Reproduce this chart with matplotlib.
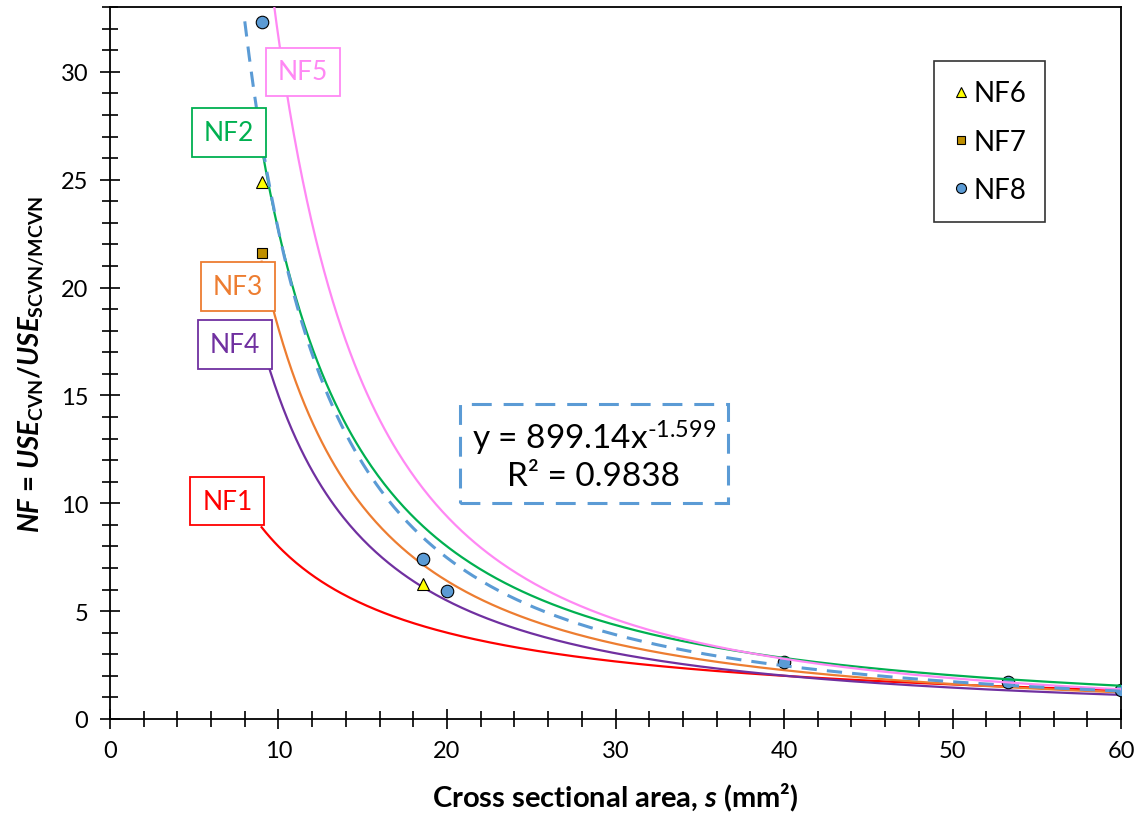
import matplotlib
matplotlib.use('Agg')
import matplotlib.pyplot as plt
from matplotlib.ticker import MultipleLocator
import numpy as np


# =============================================================================
# DATA
# =============================================================================

# NF model curves written as k*(80/s)^n, 80 mm^2 being the full-size CVN ligament area
ref_area = 80.0
curve_names = ['NF1', 'NF2', 'NF3', 'NF4', 'NF5']
curve_k = [1.0, 1.0, 0.8, 0.735, 0.83]
curve_n = [1.0, 1.5, 1.5, 1.45, 1.75]
curve_colors = ['#FF0000', '#00B050', '#ED7D31', '#7030A0', '#FF88F4']
curve_zorder = [2, 4, 2, 2, 4]
s_min, s_max = 9.0, 60.0

# label positions (data coords) for the curve names
label_x = [6.97, 7.06, 7.58, 7.40, 11.47]
label_y = [10.1, 27.2, 20.05, 17.37, 30.0]

# measured points
nf6_s = [9.0, 18.6]
nf6_y = [24.9, 6.26]
nf7_s = [9.0]
nf7_y = [21.6]
nf8_s = [9.0, 18.6, 20.0, 40.0, 53.3, 60.0]
nf8_y = [32.3, 7.42, 5.95, 2.65, 1.73, 1.32]

# power-law trendline of NF8
fit_a = 899.14
fit_b = -1.599
fit_r2 = 0.9838
fit_s_min = 8.0


# =============================================================================
# PLOT
# =============================================================================

plt.rcParams['font.family'] = ['Lato', 'DejaVu Sans']
plt.rcParams['mathtext.fontset'] = 'custom'
plt.rcParams['mathtext.rm'] = 'Lato'
plt.rcParams['mathtext.it'] = 'Lato:italic:bold'
plt.rcParams['mathtext.bf'] = 'Lato:bold'

fig = plt.figure(figsize=(11.43, 8.2), dpi=100)
ax = fig.add_axes([0.0962, 0.122, 0.8846, 0.868])

s = np.linspace(s_min, s_max, 400)
for i in range(len(curve_names)):
    nf = curve_k[i]*(ref_area/s)**curve_n[i]
    ax.plot(s, nf, color=curve_colors[i], lw=1.6, zorder=curve_zorder[i])
    ax.text(label_x[i], label_y[i], curve_names[i], color=curve_colors[i],
            fontsize=19, ha='center', va='center', zorder=6,
            bbox=dict(boxstyle='square,pad=0.45', fc='white',
                      ec=curve_colors[i], lw=1.3))

s_fit = np.linspace(fit_s_min, s_max, 400)
ax.plot(s_fit, fit_a*s_fit**fit_b, color='#5B9BD5', lw=2.2,
        dashes=(5.0, 3.3), zorder=4)

ax.plot(nf6_s, nf6_y, ls='none', marker='^', ms=9, mfc='#FFFF00',
        mec='black', mew=0.8, zorder=3, label='NF6')
ax.plot(nf7_s, nf7_y, ls='none', marker='s', ms=7.5, mfc='#BF8F00',
        mec='black', mew=0.8, zorder=3, label='NF7')
ax.plot(nf8_s, nf8_y, ls='none', marker='o', ms=9, mfc='#5B9BD5',
        mec='black', mew=0.8, zorder=3, label='NF8')

ax.text(28.72, 12.26,
        'y = %.2fx$^{\\text{%.3f}}$\nR² = %.4f' % (fit_a, fit_b, fit_r2),
        fontsize=24, ha='center', va='center', linespacing=1.2, zorder=6,
        bbox=dict(boxstyle='square,pad=0.35', fc='white', ec='#5B9BD5',
                  lw=2.2, linestyle=(0, (6.5, 3.9))))

leg = ax.legend(loc='upper right', bbox_to_anchor=(0.939, 0.944),
                fontsize=20, frameon=True, fancybox=False, edgecolor='black',
                markerscale=0.8, handlelength=0.5, handletextpad=0.2,
                labelspacing=0.8, borderpad=0.7)
leg.get_frame().set_linewidth(1.2)

ax.set_xlim(0, 60)
ax.set_ylim(0, 33)
ax.xaxis.set_major_locator(MultipleLocator(10))
ax.xaxis.set_minor_locator(MultipleLocator(2))
ax.yaxis.set_major_locator(MultipleLocator(5))
ax.yaxis.set_minor_locator(MultipleLocator(1))
ax.tick_params(which='both', direction='inout', labelsize=17, width=1.2,
               top=False, right=False)
ax.tick_params(which='major', length=15, pad=8)
ax.tick_params(which='minor', length=12)
for sp in ax.spines.values():
    sp.set_linewidth(1.3)

ax.set_xlabel('Cross sectional area, $\\mathit{s}$ (mm²)', fontsize=21,
              fontweight='bold', labelpad=14)
ax.set_ylabel('$\\mathit{NF}$ = $\\mathit{USE}_{\\mathbf{CVN}}$/'
              '$\\mathit{USE}_{\\mathbf{SCVN/MCVN}}$',
              fontsize=20, fontweight='bold', labelpad=10)

fig.savefig('out.png', dpi=100)
